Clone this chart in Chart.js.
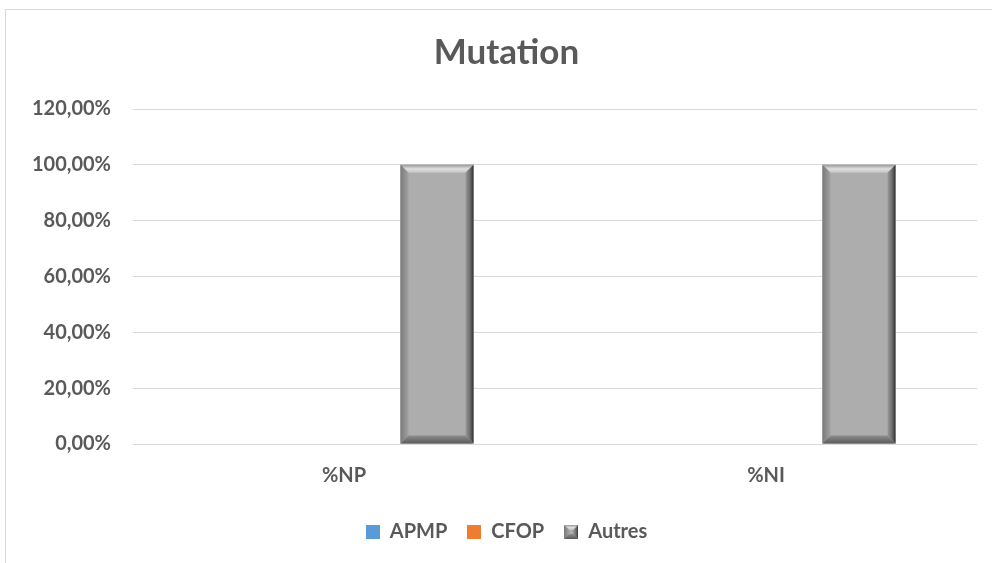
<!DOCTYPE html>
<html>
<head>
<meta charset="utf-8">
<script src="https://cdn.jsdelivr.net/npm/chart.js@4/dist/chart.umd.min.js"></script>
<style>
  html, body { margin: 0; padding: 0; background: #fff; overflow: hidden; }
  #wrap { width: 992px; height: 563px; position: relative; }
</style>
</head>
<body>
<div id="wrap"><canvas id="mutation-chart"></canvas></div>
<script>
const categories = ['%NP', '%NI'];
const seriesNames = ['APMP', 'CFOP', 'Autres'];
const apmpValues = [0, 0];
const cfopValues = [0, 0];
const autresValues = [100, 100];
const yTicks = [0, 20, 40, 60, 80, 100, 120];

const textColor = '#595959';
const gridColor = '#d9d9d9';

// draws a bevelled grey block, used both for the bars and the legend swatch
function drawBevel(ctx, left, top, right, bottom, b) {
    ctx.save();
    ctx.fillStyle = '#adadad';
    ctx.fillRect(left, top, right - left, bottom - top);

    // top
    let g = ctx.createLinearGradient(0, top, 0, top + b);
    g.addColorStop(0, '#9a9a9a');
    g.addColorStop(0.5, '#dedede');
    g.addColorStop(1, '#c4c4c4');
    ctx.fillStyle = g;
    ctx.beginPath();
    ctx.moveTo(left, top); ctx.lineTo(right, top);
    ctx.lineTo(right - b, top + b); ctx.lineTo(left + b, top + b);
    ctx.closePath(); ctx.fill();

    // left
    g = ctx.createLinearGradient(left, 0, left + b, 0);
    g.addColorStop(0, '#7a7a7a');
    g.addColorStop(1, '#a2a2a2');
    ctx.fillStyle = g;
    ctx.beginPath();
    ctx.moveTo(left, top); ctx.lineTo(left + b, top + b);
    ctx.lineTo(left + b, bottom - b); ctx.lineTo(left, bottom);
    ctx.closePath(); ctx.fill();

    // right
    g = ctx.createLinearGradient(right - b, 0, right, 0);
    g.addColorStop(0, '#9a9a9a');
    g.addColorStop(0.6, '#6a6a6a');
    g.addColorStop(1, '#2e2e2e');
    ctx.fillStyle = g;
    ctx.beginPath();
    ctx.moveTo(right, top); ctx.lineTo(right, bottom);
    ctx.lineTo(right - b, bottom - b); ctx.lineTo(right - b, top + b);
    ctx.closePath(); ctx.fill();

    // bottom
    g = ctx.createLinearGradient(0, bottom - b, 0, bottom);
    g.addColorStop(0, '#8e8e8e');
    g.addColorStop(1, '#5a5a5a');
    ctx.fillStyle = g;
    ctx.beginPath();
    ctx.moveTo(left, bottom); ctx.lineTo(right, bottom);
    ctx.lineTo(right - b, bottom - b); ctx.lineTo(left + b, bottom - b);
    ctx.closePath(); ctx.fill();
    ctx.restore();
}

function swatch(color, bevel) {
    const c = document.createElement('canvas');
    c.width = 14; c.height = 14;
    const cx = c.getContext('2d');
    if (bevel) {
        drawBevel(cx, 0, 0, 14, 14, 5);
    } else {
        cx.fillStyle = color;
        cx.fillRect(0, 0, 14, 14);
    }
    return c;
}

const legendSwatches = [swatch('#5b9bd5'), swatch('#ed7d31'), swatch(null, true)];

const frameAndBevel = {
    id: 'frameAndBevel',
    afterLayout(chart) {
        // title and legend sit a little right of the plot centre in the original
        [chart.titleBlock, chart.legend].forEach(box => {
            if (box) { box.left += 7; box.right += 7; }
        });
    },
    beforeDraw(chart) {
        const ctx = chart.ctx;
        ctx.save();
        ctx.fillStyle = '#fff';
        ctx.fillRect(0, 0, chart.width, chart.height);
        ctx.strokeStyle = gridColor;
        ctx.lineWidth = 1;
        ctx.beginPath();
        ctx.moveTo(5.5, chart.height + 5);
        ctx.lineTo(5.5, 9.5);
        ctx.lineTo(chart.width + 5, 9.5);
        ctx.stroke();
        ctx.restore();
    },
    afterDatasetDraw(chart, args) {
        if (args.index !== 2) return;
        const ctx = chart.ctx;
        args.meta.data.forEach(el => {
            const p = el.getProps(['x', 'y', 'base', 'width'], true);
            const left = p.x - p.width / 2;
            const right = p.x + p.width / 2;
            drawBevel(ctx, left, Math.min(p.y, p.base), right, Math.max(p.y, p.base), 8);
        });
    }
};

document.addEventListener('DOMContentLoaded', (event) => {
    const chartMutation = new Chart(document.getElementById('mutation-chart'), {
        type: 'bar',
        data: {
            labels: categories,
            datasets: [{
                label: seriesNames[0],
                backgroundColor: '#5b9bd5',
                data: apmpValues
            }, {
                label: seriesNames[1],
                backgroundColor: '#ed7d31',
                data: cfopValues
            }, {
                label: seriesNames[2],
                backgroundColor: '#adadad',
                data: autresValues
            }]
        },
        options: {
            responsive: true,
            maintainAspectRatio: false,
            animation: false,
            categoryPercentage: 0.661,
            barPercentage: 0.785,
            layout: {
                padding: { left: 22, right: 15, top: 0, bottom: 11 }
            },
            plugins: {
                tooltip: { enabled: false },
                title: {
                    display: true,
                    text: 'Mutation',
                    color: textColor,
                    font: { family: 'Lato', size: 35, weight: 'bold' },
                    padding: { top: 32, bottom: 35 }
                },
                legend: {
                    position: 'bottom',
                    labels: {
                        color: textColor,
                        font: { family: 'Lato', size: 20, weight: 'bold' },
                        usePointStyle: true,
                        boxWidth: 14,
                        boxHeight: 14,
                        padding: 20,
                        generateLabels(chart) {
                            return chart.data.datasets.map((ds, i) => ({
                                text: ds.label,
                                pointStyle: legendSwatches[i],
                                fontColor: textColor,
                                lineWidth: 0,
                                datasetIndex: i
                            }));
                        }
                    }
                }
            },
            scales: {
                x: {
                    grid: { display: false },
                    border: { display: false },
                    afterFit(axis) {
                        axis.height += 2;
                    },
                    ticks: {
                        color: textColor,
                        font: { family: 'Lato', size: 20, weight: 'bold' },
                        padding: 12
                    }
                },
                y: {
                    min: 0,
                    max: 120,
                    afterBuildTicks(axis) {
                        axis.ticks = yTicks.map(v => ({ value: v }));
                    },
                    afterFit(axis) {
                        axis.width = 111;
                    },
                    grid: { color: gridColor, lineWidth: 1, drawTicks: false },
                    border: { display: false },
                    ticks: {
                        color: textColor,
                        font: { family: 'Lato', size: 20, weight: 'bold' },
                        padding: 22,
                        callback: v => v.toFixed(2).replace('.', ',') + '%'
                    }
                }
            }
        },
        plugins: [frameAndBevel]
    });
});
</script>
</body>
</html>
